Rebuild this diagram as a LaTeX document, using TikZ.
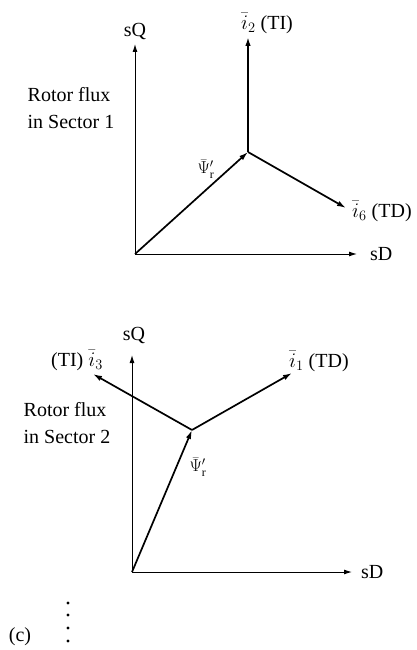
\documentclass[tikz,border=0pt]{standalone}
\usepackage{fontspec}
\setmainfont{Liberation Serif}
\usetikzlibrary{arrows.meta, positioning}

\begin{document}
\begin{tikzpicture}[x=1pt, y=-1pt, font=\fontsize{20}{27}\selectfont,
  axis/.style={-{Latex[length=8pt, width=5pt]}, line width=1pt},
  vec/.style={-{Latex[length=9pt, width=5.5pt]}, line width=1.7pt},
  lbl/.style={inner sep=0pt}]
  \useasboundingbox (0,0) rectangle (417,650);

  % Rotor flux in Sector 1
  \coordinate (O1) at (135,254);
  \coordinate (Q1) at (135,44);
  \coordinate (D1) at (357,254);
  \coordinate (F1) at (248,152);
  \coordinate (I2) at (248,37);
  \coordinate (I6) at (346,208);
  \node[lbl] (sQ1) at (135,32) {sQ};
  \node[lbl, anchor=west] (sD1) at (370,254) {sD};
  \node[lbl, anchor=west] (i2) at (241,23) {$\bar{i}_2$ (TI)};
  \node[lbl, anchor=west] (i6) at (352,211) {$\bar{i}_6$ (TD)};
  \node[lbl, font=\fontsize{17}{18}\selectfont] (psi1) at (206,169) {$\bar{\Psi}'_{\mathrm{r}}$};
  \node[lbl, align=left] (txt1) at (71,108) {Rotor flux\\in Sector 1};
  \draw[axis] (O1) -- (Q1);
  \draw[axis] (O1) -- (D1);
  \draw[vec] (O1) -- (F1);
  \draw[vec] (F1) -- (I2);
  \draw[vec] (F1) -- (I6);

  % Rotor flux in Sector 2
  \coordinate (O2) at (132,572);
  \coordinate (Q2) at (132,355);
  \coordinate (D2) at (352,572);
  \coordinate (F2) at (192,430);
  \coordinate (I3) at (93,374);
  \coordinate (I1) at (292,373);
  \node[lbl] (sQ2) at (134,335) {sQ};
  \node[lbl, anchor=west] (sD2) at (361,572) {sD};
  \node[lbl, anchor=east] (i3) at (103,360) {(TI) $\bar{i}_3$};
  \node[lbl, anchor=west] (i1) at (289,361) {$\bar{i}_1$ (TD)};
  \node[lbl, font=\fontsize{17}{18}\selectfont] (psi2) at (198,467) {$\bar{\Psi}'_{\mathrm{r}}$};
  \node[lbl, align=left] (txt2) at (67,423) {Rotor flux\\in Sector 2};
  \draw[axis] (O2) -- (Q2);
  \draw[axis] (O2) -- (D2);
  \draw[vec] (O2) -- (F2);
  \draw[vec] (F2) -- (I3);
  \draw[vec] (F2) -- (I1);

  % (c) and the dots
  \node[lbl] (c) at (20,637) {(c)};
  \foreach \y in {603,615,628,641} \fill (68,\y) circle (1.6);
\end{tikzpicture}
\end{document}
